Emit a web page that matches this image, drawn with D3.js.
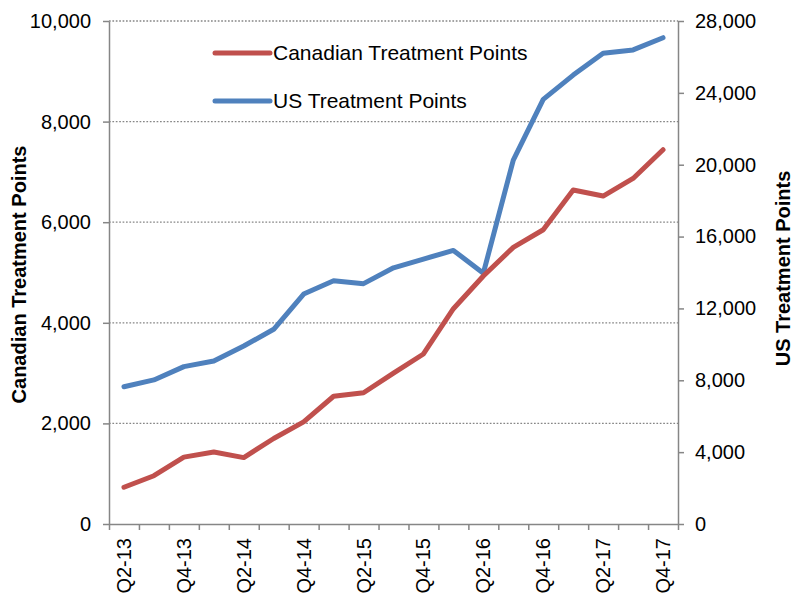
<!DOCTYPE html>
<html>
<head>
<meta charset="utf-8">
<script src="https://d3js.org/d3.v7.min.js"></script>
<style>
  body { margin: 0; background: #fff; }
  svg text { font-family: 'Liberation Sans', Arial, sans-serif; fill: #000; }
  .axis path, .axis line { stroke: #868686; stroke-width: 1.5px; }
  .axis text { font-size: 20px; }
</style>
</head>
<body>
<div id="chart"></div>
<script>
  // quarters shown on the x axis
  var quarters = ["Q2-13", "Q3-13", "Q4-13", "Q1-14", "Q2-14", "Q3-14", "Q4-14",
    "Q1-15", "Q2-15", "Q3-15", "Q4-15", "Q1-16", "Q2-16", "Q3-16", "Q4-16",
    "Q1-17", "Q2-17", "Q3-17", "Q4-17"];

  // Canadian treatment points (left axis)
  var canadian = [730, 960, 1330, 1430, 1320, 1700, 2030, 2540, 2610, 3000,
    3380, 4280, 4930, 5500, 5850, 6640, 6520, 6870, 7440];

  // US treatment points (right axis)
  var us = [7640, 8020, 8760, 9070, 9910, 10840, 12800, 13540, 13380, 14260,
    14750, 15230, 13960, 20260, 23640, 24990, 26200, 26390, 27070];

  var leftTicks = [0, 2000, 4000, 6000, 8000, 10000];
  var rightTicks = [0, 4000, 8000, 12000, 16000, 20000, 24000, 28000];
  var labelledQuarters = quarters.filter(function (d, i) { return i % 2 === 0; });

  var W = 793, H = 598;
  var margin = { top: 21, right: 115, bottom: 74, left: 109 },
    width = W - margin.left - margin.right,
    height = H - margin.top - margin.bottom;

  var svg = d3.select("#chart")
    .append("svg")
    .attr("width", W)
    .attr("height", H)
    .append("g")
    .attr("transform", "translate(" + margin.left + "," + margin.top + ")");

  var x = d3.scaleBand()
    .domain(quarters)
    .range([0, width])
    .padding(0);

  // tick marks sit on the category boundaries
  var xEdge = d3.scaleLinear()
    .domain([0, quarters.length])
    .range([0, width]);

  var yLeft = d3.scaleLinear().domain([0, 10000]).range([height, 0]);
  var yRight = d3.scaleLinear().domain([0, 28000]).range([height, 0]);

  // dotted gridlines
  svg.append("g")
    .selectAll("line")
    .data(leftTicks.slice(1))
    .enter()
    .append("line")
    .attr("x1", 0)
    .attr("x2", width)
    .attr("y1", function (d) { return yLeft(d); })
    .attr("y2", function (d) { return yLeft(d); })
    .style("stroke", "#868686")
    .style("stroke-width", "1.3px")
    .style("stroke-dasharray", "1.7,1.7");

  // left axis
  svg.append("g")
    .attr("class", "axis")
    .call(d3.axisLeft(yLeft)
      .tickValues(leftTicks)
      .tickFormat(d3.format(","))
      .tickSize(6)
      .tickSizeOuter(0)
      .tickPadding(12));

  // right axis
  svg.append("g")
    .attr("class", "axis")
    .attr("transform", "translate(" + width + ",0)")
    .call(d3.axisRight(yRight)
      .tickValues(rightTicks)
      .tickFormat(d3.format(","))
      .tickSize(6)
      .tickSizeOuter(0)
      .tickPadding(11));

  // x axis: boundary ticks
  svg.append("g")
    .attr("class", "axis")
    .attr("transform", "translate(0," + height + ")")
    .call(d3.axisBottom(xEdge)
      .tickValues(d3.range(quarters.length + 1))
      .tickFormat("")
      .tickSize(6)
      .tickSizeOuter(0));

  // x axis: rotated labels at every other quarter
  var xLabels = svg.append("g")
    .attr("class", "axis")
    .attr("transform", "translate(0," + height + ")")
    .call(d3.axisBottom(x)
      .tickValues(labelledQuarters)
      .tickSize(0));
  xLabels.select(".domain").remove();
  xLabels.selectAll("text")
    .attr("transform", "rotate(-90)")
    .attr("x", -14)
    .attr("y", 0)
    .attr("dy", "0.35em")
    .style("text-anchor", "end");

  // lines
  var lineLeft = d3.line()
    .x(function (d, i) { return x(quarters[i]) + x.bandwidth() / 2; })
    .y(function (d) { return yLeft(d); });
  var lineRight = d3.line()
    .x(function (d, i) { return x(quarters[i]) + x.bandwidth() / 2; })
    .y(function (d) { return yRight(d); });

  svg.append("path")
    .datum(us)
    .attr("d", lineRight)
    .attr("fill", "none")
    .attr("stroke", "#4F81BD")
    .attr("stroke-width", 5)
    .attr("stroke-linejoin", "round")
    .attr("stroke-linecap", "round");

  svg.append("path")
    .datum(canadian)
    .attr("d", lineLeft)
    .attr("fill", "none")
    .attr("stroke", "#C0504D")
    .attr("stroke-width", 5)
    .attr("stroke-linejoin", "round")
    .attr("stroke-linecap", "round");

  // axis titles
  svg.append("text")
    .attr("transform", "translate(" + (19 - margin.left) + "," + (height / 2 + 2) + ")rotate(-90)")
    .attr("text-anchor", "middle")
    .attr("dy", "0.35em")
    .style("font-size", "20px")
    .style("font-weight", "bold")
    .text("Canadian Treatment Points");

  svg.append("text")
    .attr("transform", "translate(" + (width + 105) + "," + (height / 2 - 4) + ")rotate(-90)")
    .attr("text-anchor", "middle")
    .attr("dy", "0.35em")
    .style("font-size", "20px")
    .style("font-weight", "bold")
    .text("US Treatment Points");

  // legend
  var legendItems = [
    { name: "Canadian Treatment Points", color: "#C0504D" },
    { name: "US Treatment Points", color: "#4F81BD" }
  ];
  var legend = svg.selectAll(".legend")
    .data(legendItems)
    .enter()
    .append("g")
    .attr("class", "legend")
    .attr("transform", function (d, i) { return "translate(" + (215 - margin.left) + "," + (32 + i * 48) + ")"; });
  legend.append("line")
    .attr("x1", 0)
    .attr("x2", 55)
    .attr("y1", 0)
    .attr("y2", 0)
    .attr("stroke", function (d) { return d.color; })
    .attr("stroke-width", 5)
    .attr("stroke-linecap", "round");
  legend.append("text")
    .attr("x", 58)
    .attr("y", 0)
    .attr("dy", "0.35em")
    .style("font-size", "21px")
    .text(function (d) { return d.name; });
</script>
</body>
</html>
